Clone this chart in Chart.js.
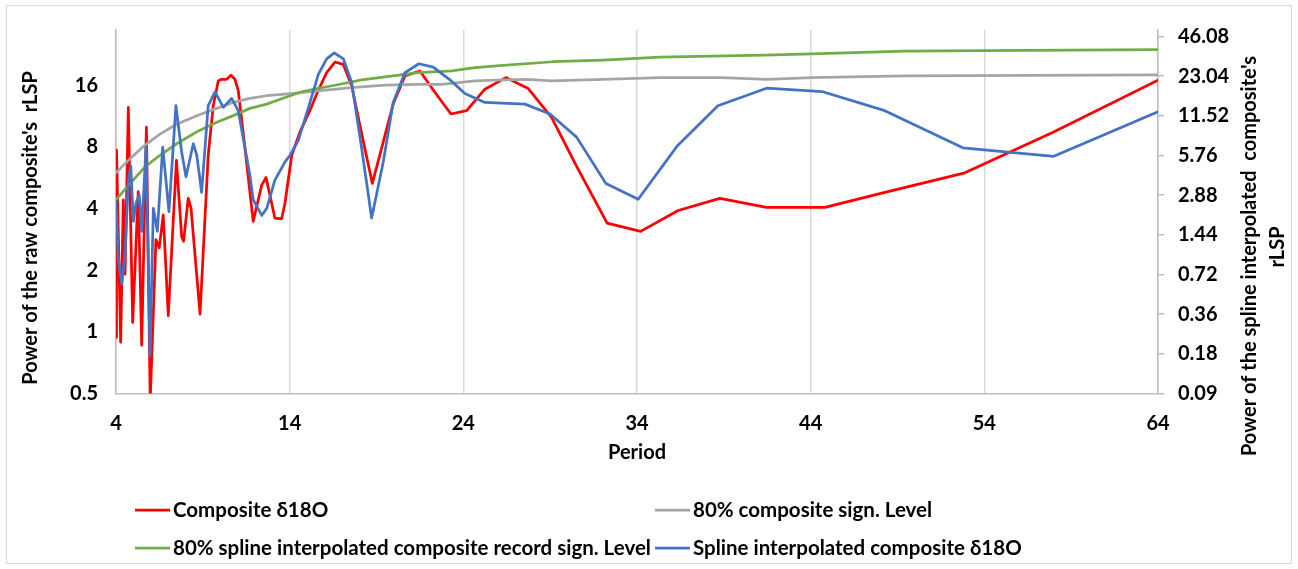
<!DOCTYPE html>
<html><head><meta charset="utf-8">
<script src="https://cdn.jsdelivr.net/npm/chart.js@4.4.1/dist/chart.umd.min.js"></script>
<style>
html,body{margin:0;padding:0;background:#fff;}
#wrap{position:relative;width:1298px;height:569px;}
#frame{position:absolute;left:6px;top:5px;width:1284px;height:557px;border:1px solid #d9d9d9;pointer-events:none;}
canvas{display:block;}
</style></head><body>
<div id="wrap"><canvas id="c" width="1298" height="569"></canvas><div id="frame"></div></div>
<script>
// ---- data ----
const xTicks = [4, 14, 24, 34, 44, 54, 64];
const leftTicks = [0.5, 1, 2, 4, 8, 16];
const rightTicks = [0.09, 0.18, 0.36, 0.72, 1.44, 2.88, 5.76, 11.52, 23.04, 46.08];

const seriesNames = ["Composite δ18O", "80% composite sign. Level",
  "80% spline interpolated composite record sign. Level", "Spline interpolated composite δ18O"];

// Composite δ18O (left axis)
const compositePeriod = [4.00,4.03,4.27,4.42,4.52,4.71,4.96,5.28,5.48,5.75,5.97,6.30,6.49,6.72,7.01,7.48,7.78,7.89,8.16,8.32,8.84,9.31,9.60,9.89,10.09,10.37,10.62,10.85,11.04,11.43,11.90,12.39,12.64,13.15,13.54,13.73,14.12,14.59,15.17,15.55,16.13,16.61,17.09,17.57,18.16,18.76,19.37,19.96,20.64,21.50,22.37,23.29,24.19,25.24,26.45,27.74,29.08,30.54,32.28,34.21,36.37,38.77,41.46,44.82,48.33,52.88,57.96,64.00];
const compositePower = [0.94,7.71,0.89,4.40,1.91,12.45,1.11,4.83,0.86,9.96,0.46,2.82,2.57,3.72,1.20,6.87,2.92,2.77,4.48,4.01,1.22,7.27,12.69,16.77,17.07,17.07,17.85,17.07,15.05,7.82,3.46,5.20,5.66,3.59,3.56,4.24,7.27,9.42,12.04,14.44,18.39,20.72,20.17,15.86,9.16,5.30,8.34,12.92,17.73,18.74,14.72,11.56,12.0,15.27,17.40,15.39,11.14,6.38,3.39,3.09,3.91,4.48,4.05,4.05,4.80,5.97,9.42,16.88];

// 80% composite sign. Level (left axis)
const compSigPeriod = [4.00,4.81,5.67,6.53,7.49,8.72,9.80,10.75,11.71,12.68,13.73,15.63,17.57,19.49,21.39,22.75,24.67,26.28,27.64,29.08,32.04,35.32,38.87,41.46,44.05,49.42,64.00];
const compSigPower = [5.97,7.00,8.15,9.22,10.30,11.39,12.31,13.16,13.77,14.19,14.44,15.0,15.56,15.97,16.14,16.14,16.77,16.96,17.07,16.77,17.07,17.40,17.40,17.07,17.40,17.73,17.93];

// 80% spline interpolated composite record sign. Level (right axis)
const splineSigPeriod = [4.00,4.81,5.67,6.53,7.49,8.72,9.80,10.75,11.71,12.68,13.73,14.69,15.65,16.61,18.15,19.49,21.40,23.33,24.67,26.28,29.16,32.04,35.32,41.36,44.05,49.42,53.97,64.00];
const splineSigPower = [2.65,3.53,4.72,5.78,7.07,8.81,10.30,11.56,13.12,14.13,15.88,17.52,18.65,19.65,21.57,22.73,24.49,25.22,26.70,27.78,29.63,30.51,32.14,33.27,34.03,35.66,36.03,36.66];

// Spline interpolated composite δ18O (right axis)
const splinePeriod = [4.00,4.13,4.33,4.52,4.71,4.85,5.00,5.15,5.34,5.48,5.73,5.96,6.15,6.38,6.69,7.05,7.45,7.78,8.03,8.45,8.65,8.93,9.31,9.70,10.18,10.66,11.04,11.71,11.90,12.39,12.68,13.15,13.73,14.02,14.50,15.17,15.65,16.13,16.57,17.09,17.57,18.15,18.72,19.39,19.96,20.64,21.44,22.27,23.23,24.09,25.24,27.55,28.99,30.52,32.21,34.07,36.30,38.66,41.46,44.65,48.27,52.76,58.00,64.00];
const splinePower = [2.57,0.96,0.61,1.02,3.64,4.80,1.82,2.50,2.89,1.53,6.68,0.175,2.29,1.53,6.68,2.16,13.75,6.12,3.97,7.07,5.81,3.02,13.75,17.52,13.35,15.6,12.61,4.09,2.66,2.02,2.29,3.75,5.15,5.78,7.50,14.56,23.77,31.2,34.6,31.2,20.6,6.48,1.93,5.15,14.56,24.5,28.6,27.0,21.6,17.0,14.56,14.13,11.89,7.94,3.53,2.68,6.76,13.75,18.65,17.6,12.61,6.59,5.68,12.39];

const xTitle = "Period";
const leftTitle = "Power of the raw composite's  rLSP";
const rightTitle1 = "Power of the spline interpolated  composite's";
const rightTitle2 = "rLSP";

// ---- chart ----
const pts = (xs, ys) => xs.map((x, i) => ({x: x, y: ys[i]}));
const colors = ['#FF0000', '#A5A5A5', '#70AD47', '#4472C4'];
const FONT = 'Lato';
const FS = 20;

const annot = {
  id: 'annot',
  afterDraw(chart) {
    const ctx = chart.ctx;
    ctx.save();
    ctx.fillStyle = '#000';
    ctx.font = 'bold ' + FS + 'px ' + FONT;
    ctx.textAlign = 'center';
    ctx.textBaseline = 'middle';
    ctx.fillText(xTitle, 637, 453);
    ctx.save(); ctx.translate(31, 228); ctx.rotate(-Math.PI / 2); ctx.fillText(leftTitle, 0, 0); ctx.restore();
    ctx.save(); ctx.translate(1250, 256); ctx.rotate(-Math.PI / 2); ctx.fillText(rightTitle1, 0, 0); ctx.restore();
    ctx.save(); ctx.translate(1278, 247); ctx.rotate(-Math.PI / 2); ctx.fillText(rightTitle2, 0, 0); ctx.restore();
    // legend (2 x 2)
    const slots = [[135, 510], [655, 510], [135, 548], [655, 548]];
    ctx.textAlign = 'left';
    ctx.font = 'bold 20.5px ' + FONT;
    seriesNames.forEach((name, i) => {
      const [lx, ly] = slots[i];
      ctx.strokeStyle = colors[i];
      ctx.lineWidth = 2.75;
      ctx.beginPath(); ctx.moveTo(lx, ly); ctx.lineTo(lx + 35, ly); ctx.stroke();
      ctx.fillStyle = '#000';
      ctx.fillText(name, lx + 38, ly);
    });
    ctx.restore();
  }
};

const ds = (label, data, color, axis, order) => ({
  label, data, borderColor: color, backgroundColor: color, borderWidth: 2.75,
  pointRadius: 0, tension: 0, yAxisID: axis, order,
  borderJoinStyle: 'round', borderCapStyle: 'round', fill: false
});

const tickFont = { family: FONT, weight: 'bold', size: FS };

new Chart(document.getElementById('c'), {
  type: 'line',
  data: {
    datasets: [
      ds(seriesNames[3], pts(splinePeriod, splinePower), colors[3], 'y2', 0),
      ds(seriesNames[2], pts(splineSigPeriod, splineSigPower), colors[2], 'y2', 1),
      ds(seriesNames[1], pts(compSigPeriod, compSigPower), colors[1], 'y', 2),
      ds(seriesNames[0], pts(compositePeriod, compositePower), colors[0], 'y', 3)
    ]
  },
  options: {
    responsive: false, animation: false, devicePixelRatio: 1, events: [],
    layout: { padding: { top: 27, left: 0, right: 0, bottom: 0 } },
    plugins: { legend: { display: false }, tooltip: { enabled: false } },
    scales: {
      x: {
        type: 'linear', min: 4, max: 64,
        afterBuildTicks: s => { s.ticks = xTicks.map(v => ({value: v})); },
        afterFit: s => { s.height = 175.5; },
        grid: { color: '#d9d9d9', lineWidth: 1.5, drawTicks: false },
        border: { display: true, color: '#bfbfbf', width: 1.5 },
        ticks: { padding: 18, color: '#000', font: tickFont, autoSkip: false, maxRotation: 0 }
      },
      y: {
        type: 'logarithmic', position: 'left', min: 0.5, max: 29.7, bounds: 'data',
        afterBuildTicks: s => { s.ticks = leftTicks.map(v => ({value: v})); },
        afterFit: s => { s.width = 116; },
        grid: { drawOnChartArea: false, drawTicks: false },
        border: { display: true, color: '#bfbfbf', width: 1.5 },
        ticks: { padding: 18, color: '#000', font: tickFont, autoSkip: false,
          callback: v => String(v) }
      },
      y2: {
        type: 'logarithmic', position: 'right', min: 0.09, max: 51.6, bounds: 'data',
        afterBuildTicks: s => { s.ticks = rightTicks.map(v => ({value: v})); },
        afterFit: s => { s.width = 140; },
        grid: { drawOnChartArea: false, drawTicks: true, tickLength: 6, color: '#bfbfbf', lineWidth: 1.5 },
        border: { display: true, color: '#bfbfbf', width: 1.5 },
        ticks: { padding: 14, color: '#000', font: tickFont, autoSkip: false,
          callback: v => String(v) }
      }
    }
  },
  plugins: [annot]
});
</script>
</body></html>
